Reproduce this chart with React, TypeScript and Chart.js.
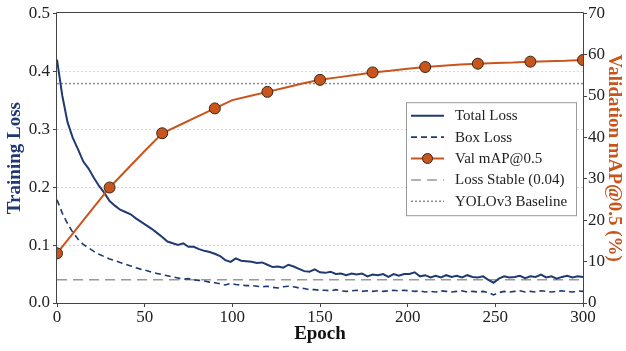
import React, { useEffect, useRef } from "react";
import { Chart, registerables } from "chart.js";

Chart.register(...registerables);

// ---------- data ----------
const LOSS_STEP = 3; // epochs between loss samples
const totalLoss = [
  0.420, 0.358, 0.312, 0.285, 0.265, 0.244, 0.232, 0.216, 0.202, 0.190,
  0.176, 0.168, 0.161, 0.157, 0.153, 0.146, 0.140, 0.134, 0.128, 0.121,
  0.114, 0.106, 0.103, 0.100, 0.103, 0.097, 0.097, 0.093, 0.090, 0.088,
  0.085, 0.081, 0.074, 0.071, 0.077, 0.073, 0.072, 0.071, 0.069, 0.070,
  0.066, 0.062, 0.063, 0.061, 0.066, 0.063, 0.059, 0.055, 0.054, 0.058,
  0.053, 0.052, 0.054, 0.050, 0.051, 0.048, 0.051, 0.049, 0.051, 0.046,
  0.049, 0.048, 0.050, 0.045, 0.050, 0.047, 0.050, 0.050, 0.053, 0.046,
  0.048, 0.044, 0.047, 0.044, 0.048, 0.045, 0.047, 0.044, 0.048, 0.045,
  0.044, 0.046, 0.040, 0.035, 0.042, 0.046, 0.044, 0.045, 0.047, 0.043,
  0.046, 0.045, 0.049, 0.044, 0.046, 0.042, 0.045, 0.047, 0.044, 0.046,
  0.045,
];
const boxLoss = [
  0.178, 0.155, 0.137, 0.122, 0.110, 0.101, 0.095, 0.089, 0.084, 0.080,
  0.076, 0.073, 0.070, 0.067, 0.064, 0.061, 0.058, 0.056, 0.053, 0.051,
  0.049, 0.047, 0.045, 0.043, 0.041, 0.042, 0.040, 0.039, 0.038, 0.036,
  0.035, 0.033, 0.031, 0.034, 0.032, 0.031, 0.030, 0.030, 0.029, 0.028,
  0.029, 0.027, 0.026, 0.028, 0.029, 0.028, 0.026, 0.025, 0.023, 0.023,
  0.022, 0.022, 0.021, 0.023, 0.021, 0.020, 0.021, 0.022, 0.020, 0.021,
  0.020, 0.021, 0.020, 0.021, 0.022, 0.021, 0.022, 0.021, 0.020, 0.021,
  0.019, 0.020, 0.019, 0.021, 0.020, 0.019, 0.020, 0.021, 0.019, 0.020,
  0.019, 0.020, 0.018, 0.014, 0.018, 0.020, 0.019, 0.020, 0.021, 0.019,
  0.020, 0.019, 0.021, 0.020, 0.019, 0.020, 0.021, 0.020, 0.019, 0.021,
  0.020,
];
const mapEpochs = [
  0, 10, 20, 30, 40, 50, 60, 70, 80, 90, 100, 110, 120, 130, 140, 150,
  160, 170, 180, 190, 200, 210, 220, 230, 240, 250, 260, 270, 280, 290, 300,
];
const valMap = [
  12.0, 17.3, 22.6, 27.9, 32.3, 36.7, 41.0, 43.0, 45.0, 47.0, 49.0, 50.0,
  51.0, 52.0, 53.0, 53.9, 54.5, 55.1, 55.7, 56.1, 56.6, 57.0, 57.3, 57.6,
  57.8, 58.0, 58.1, 58.3, 58.4, 58.5, 58.7,
];
const markerEpochs = [0, 30, 60, 90, 120, 150, 180, 210, 240, 270, 300];
const lossStable = 0.04;
const yoloBaseline = 53.0;
const epochRange = [0, 300];
const lossRange = [0, 0.5];
const mapRange = [0, 70];

// ---------- styles ----------
const FONT = "'Liberation Serif', 'Times New Roman', serif";
const NAVY = "#1f3a72";
const ORANGE = "#c8561c";
const TICK_COLOR = "#222";

const lossPoints = (arr: number[]) =>
  arr.map((v, i) => ({ x: i * LOSS_STEP, y: v }));

const framePlugin = {
  id: "frame",
  afterDraw(chart: any) {
    const { ctx, chartArea } = chart;
    ctx.save();
    ctx.strokeStyle = "#444";
    ctx.lineWidth = 1;
    ctx.setLineDash([]);
    const l = Math.round(chartArea.left) - 0.5;
    const t = Math.round(chartArea.top) - 0.5;
    const r = Math.round(chartArea.right) + 0.5;
    const b = Math.round(chartArea.bottom) + 0.5;
    ctx.beginPath();
    ctx.rect(l, t, r - l, b - t);
    ctx.stroke();
    ctx.restore();
  },
};

const legendPlugin = {
  id: "boxLegend",
  afterDraw(chart: any) {
    const { ctx, chartArea } = chart;
    const w = 170;
    const h = 113;
    const x0 = chartArea.right - 177;
    const y0 = chartArea.top + 89;
    ctx.save();
    ctx.fillStyle = "rgba(255,255,255,0.92)";
    ctx.fillRect(x0, y0, w, h);
    ctx.strokeStyle = "#9a9a9a";
    ctx.lineWidth = 1;
    ctx.setLineDash([]);
    ctx.strokeRect(x0 + 0.5, y0 + 0.5, w, h);
    ctx.font = `15px ${FONT}`;
    ctx.textBaseline = "middle";
    chart.data.datasets.forEach((ds: any, i: number) => {
      const y = y0 + 13.5 + i * 21.4;
      const lx0 = x0 + 5;
      const lx1 = x0 + 38;
      ctx.save();
      ctx.strokeStyle = ds.borderColor;
      ctx.lineWidth = ds.borderWidth;
      ctx.setLineDash(ds.borderDash || []);
      ctx.beginPath();
      ctx.moveTo(lx0, y);
      ctx.lineTo(lx1, y);
      ctx.stroke();
      if (ds.legendMarker) {
        ctx.setLineDash([]);
        ctx.fillStyle = ds.pointBackgroundColor;
        ctx.strokeStyle = ds.pointBorderColor;
        ctx.lineWidth = 1;
        ctx.beginPath();
        ctx.arc((lx0 + lx1) / 2, y, 5, 0, Math.PI * 2);
        ctx.fill();
        ctx.stroke();
      }
      ctx.restore();
      ctx.fillStyle = "#222";
      ctx.fillText(ds.label, x0 + 49, y + 0.5);
    });
    ctx.restore();
  },
};

export default function App() {
  const canvasRef = useRef<HTMLCanvasElement | null>(null);

  useEffect(() => {
    document.body.style.margin = "0";
    const canvas = canvasRef.current;
    if (!canvas) return;
    const chart = new Chart(canvas, {
      type: "line",
      data: {
        datasets: [
          {
            label: "Total Loss",
            data: lossPoints(totalLoss),
            yAxisID: "y",
            borderColor: NAVY,
            borderWidth: 2,
            pointRadius: 0,
            tension: 0,
            order: 2,
          },
          {
            label: "Box Loss",
            data: lossPoints(boxLoss),
            yAxisID: "y",
            borderColor: NAVY,
            borderWidth: 1.6,
            borderDash: [6, 4],
            pointRadius: 0,
            tension: 0,
            order: 3,
          },
          {
            label: "Val mAP@0.5",
            data: mapEpochs.map((e, i) => ({ x: e, y: valMap[i] })),
            yAxisID: "y1",
            borderColor: ORANGE,
            borderWidth: 2,
            pointRadius: (c: any) =>
              markerEpochs.includes(mapEpochs[c.dataIndex]) ? 5.5 : 0,
            pointBackgroundColor: ORANGE,
            pointBorderColor: "#3a2414",
            pointBorderWidth: 1,
            tension: 0,
            order: 0,
            legendMarker: true,
          } as any,
          {
            label: "Loss Stable (0.04)",
            data: [
              { x: epochRange[0], y: lossStable },
              { x: epochRange[1], y: lossStable },
            ],
            yAxisID: "y",
            borderColor: "#9a9a9a",
            borderWidth: 1.5,
            borderDash: [10, 6],
            pointRadius: 0,
            order: 4,
          },
          {
            label: "YOLOv3 Baseline",
            data: [
              { x: epochRange[0], y: yoloBaseline },
              { x: epochRange[1], y: yoloBaseline },
            ],
            yAxisID: "y1",
            borderColor: "#8a8a8a",
            borderWidth: 1.5,
            borderDash: [2, 2],
            pointRadius: 0,
            order: 5,
          },
        ],
      },
      options: {
        animation: false,
        responsive: false,
        devicePixelRatio: 1,
        layout: { padding: { top: 11, left: 0, right: 0, bottom: 0 } },
        plugins: {
          legend: { display: false },
          tooltip: { enabled: false },
        },
        scales: {
          x: {
            type: "linear",
            min: epochRange[0],
            max: epochRange[1],
            afterFit: (s: any) => {
              s.height = 48;
            },
            ticks: {
              stepSize: 50,
              color: TICK_COLOR,
              font: { family: FONT, size: 17 },
              padding: 0,
              maxRotation: 0,
            },
            grid: {
              drawOnChartArea: false,
              drawTicks: true,
              tickLength: 4,
              tickColor: "#444",
            },
            border: { display: false },
            title: {
              display: true,
              text: "Epoch",
              color: "#111",
              font: { family: FONT, size: 19, weight: "bold" },
              padding: { top: 0, bottom: 6 },
            },
          },
          y: {
            type: "linear",
            position: "left",
            min: lossRange[0],
            max: lossRange[1],
            afterFit: (s: any) => {
              s.width = 57;
            },
            ticks: {
              stepSize: 0.1,
              color: TICK_COLOR,
              font: { family: FONT, size: 17 },
              padding: 3,
              callback: (v: any) => Number(v).toFixed(1),
            },
            grid: {
              color: (c: any) =>
                c.tick &&
                (c.tick.value === lossRange[0] || c.tick.value === lossRange[1])
                  ? "rgba(0,0,0,0)"
                  : "#d8d8d8",
              lineWidth: 1,
              drawTicks: true,
              tickLength: 4,
              tickColor: "#444",
            },
            border: { display: false, dash: [2, 2] },
            title: {
              display: true,
              text: "Training Loss",
              color: NAVY,
              font: { family: FONT, size: 19, weight: "bold" },
              padding: { top: 4, bottom: 0 },
            },
          },
          y1: {
            type: "linear",
            position: "right",
            min: mapRange[0],
            max: mapRange[1],
            afterFit: (s: any) => {
              s.width = 43;
            },
            ticks: {
              stepSize: 10,
              color: TICK_COLOR,
              font: { family: FONT, size: 17 },
              padding: 1,
            },
            grid: {
              drawOnChartArea: false,
              drawTicks: true,
              tickLength: 4,
              tickColor: "#444",
            },
            border: { display: false },
            title: {
              display: true,
              text: "Validation mAP@0.5 (%)",
              color: ORANGE,
              font: { family: FONT, size: 19, weight: "bold" },
              padding: { top: 1, bottom: 0 },
            },
          },
        },
      } as any,
      plugins: [framePlugin, legendPlugin],
    });
    return () => chart.destroy();
  }, []);

  return (
    <div style={{ width: 626, height: 351 }}>
      <canvas ref={canvasRef} width={626} height={351} />
    </div>
  );
}
